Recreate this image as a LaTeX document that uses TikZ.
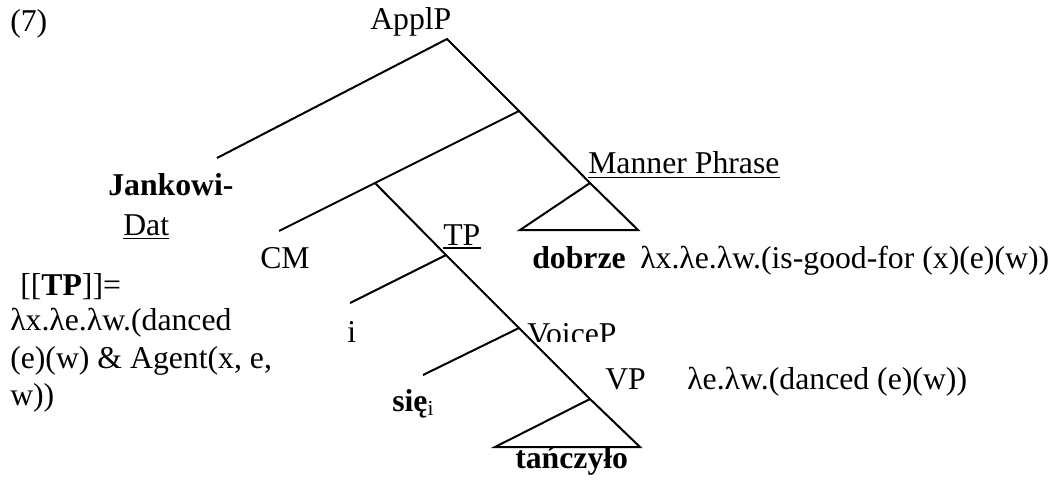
\documentclass[tikz,border=0pt]{standalone}
\usepackage{fontspec}
\setmainfont{Liberation Serif}
\begin{document}
\begin{tikzpicture}[x=0.75pt,y=-0.75pt,
  every node/.style={font=\fontsize{23.8pt}{28pt}\selectfont, inner sep=0pt, anchor=base west},
  branch/.style={line width=1.5pt, line join=miter},
  uline/.style={line width=1.3pt},
]
\useasboundingbox (0,0) rectangle (1063,482);

% --- tree skeleton ---
\coordinate (applp) at (447,39);
\coordinate (jank)  at (217,158);
\coordinate (j1)    at (519,111);
\coordinate (j2)    at (375,183);
\coordinate (cm-e)  at (279,231);
\coordinate (mpa)   at (590,183);
\coordinate (mpl)   at (520,230);
\coordinate (mpr)   at (638,230);
\coordinate (tpj)   at (446,255);
\coordinate (i-e)   at (350,303);
\coordinate (vpj)   at (519,328);
\coordinate (sie-e) at (423,375);
\coordinate (vpa)   at (590,399);
\coordinate (vpl)   at (495,447);
\coordinate (vpr)   at (640,447);

\draw[branch] (jank) -- (applp) -- (j1);
\draw[branch] (j2) -- (j1) -- (mpa);
\draw[branch] (mpl) -- (mpa) -- (mpr) -- cycle;
\draw[branch] (cm-e) -- (j2) -- (tpj) -- (vpj) -- (vpa);
\draw[branch] (i-e) -- (tpj);
\draw[branch] (sie-e) -- (vpj);
\draw[branch] (vpl) -- (vpa) -- (vpr) -- cycle;

% --- labels ---
\node (ex)     at (10,31)  {(7)};
\node (applpl) at (370,29) {ApplP};
\node (jankl)  at (108,195) {\textbf{Jankowi-}};
\node (dat)    at (123,235) {Dat\hspace{0.25em}};
\draw[uline] ([yshift=-2.6pt]dat.base west) -- ([yshift=-2.6pt]dat.base east);
\node (cml)    at (260,268) {CM};
\node (tpl)    at (443,245) {TP};
\draw[uline] ([yshift=-2.4pt]tpl.base west) -- ([yshift=-2.4pt]tpl.base east);
\node (mpl-t)  at (588,173) {Manner Phrase};
\draw[uline] ([yshift=-3.4pt]mpl-t.base west) -- ([yshift=-3.4pt]mpl-t.base east);
\node (dobrze) at (532,268) {\textbf{dobrze}};
\node (dobsem) at (640,268) {λx.λe.λw.(is-good-for (x)(e)(w))};

\node (tpeq)   at (20,295)  {[[\textbf{TP}]]=};
\node (tpsem1) at (10,330)  {λx.λe.λw.(danced};
\node (tpsem2) at (10,368)  {(e)(w) \& Agent(x, e,};
\node (tpsem3) at (10,405)  {w))};

\begin{scope}
  \clip (300,300) rectangle (700,341);
  \node (il)     at (347,342) {i};
  \node (voicel) at (527,344) {VoiceP};
\end{scope}

\node (siel)   at (392,411) {\textbf{się}\raisebox{-3pt}{\fontsize{16pt}{16pt}\selectfont i}};
\node (vplab)  at (605,389) {VP};
\node (vpsem)  at (687,389) {λe.λw.(danced (e)(w))};
\node (tancz)  at (515,468) {\textbf{tańczyło}};
\end{tikzpicture}
\end{document}
